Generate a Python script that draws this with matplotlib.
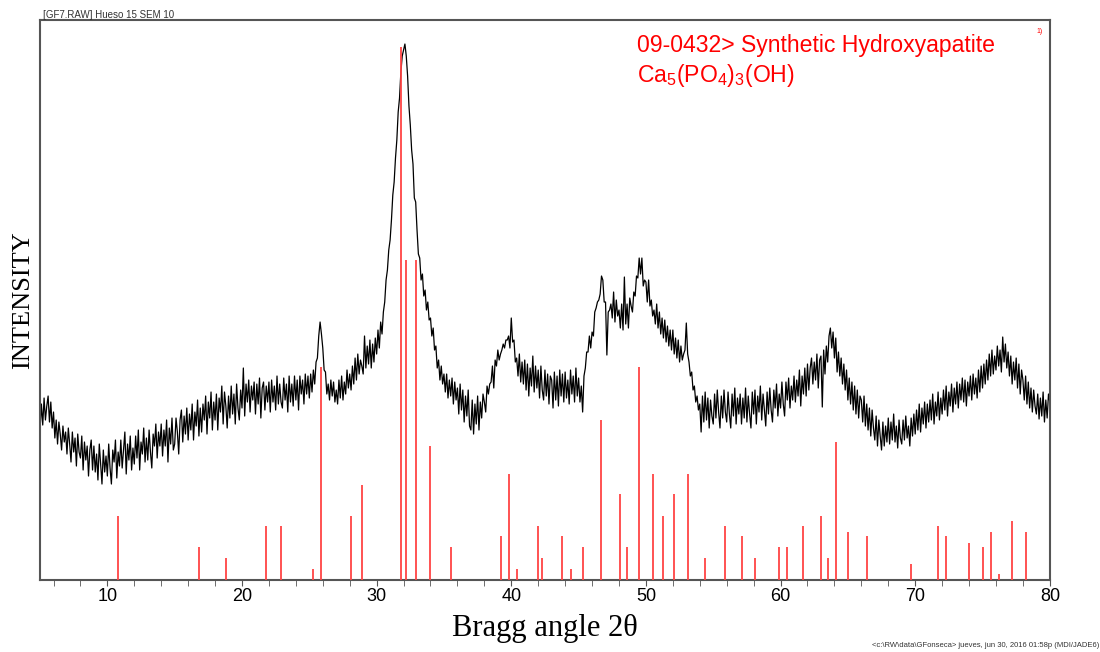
# Import necessary libraries
import numpy as np
import matplotlib.pyplot as plt

plt.rcParams['mathtext.fontset'] = 'custom'
plt.rcParams['mathtext.rm'] = 'Liberation Sans'
plt.rcParams['mathtext.default'] = 'rm'

# Measured pattern: intensity every 0.1 degree from 5.0 to 80.0 (arbitrary units)
angle_start = 5.0
angle_step = 0.1
intensity = [
    150, 176, 155, 182, 160, 174, 184, 158, 178, 152,   # 5
    168, 142, 160, 136, 158, 146, 130, 154, 138, 148,   # 6
    126, 152, 136, 118, 148, 128, 142, 114, 146, 128,   # 7
    122, 144, 110, 138, 120, 134, 104, 130, 140, 110,   # 8
    134, 108, 126, 100, 136, 116, 96, 130, 108, 124,    # 9
    104, 136, 112, 96, 130, 118, 140, 102, 128, 114,    # 10
    140, 112, 130, 148, 106, 136, 120, 144, 110, 132,   # 11
    116, 144, 122, 150, 110, 138, 126, 152, 118, 142,   # 12
    120, 150, 128, 112, 146, 134, 156, 122, 148, 134,   # 13
    156, 124, 150, 134, 160, 118, 152, 136, 162, 130,   # 14
    136, 162, 148, 126, 160, 170, 138, 164, 146, 172,   # 15
    140, 166, 150, 176, 140, 168, 154, 180, 144, 172,   # 16
    148, 176, 160, 184, 146, 178, 162, 188, 150, 178,   # 17
    160, 186, 150, 182, 168, 194, 156, 188, 174, 152,   # 18
    184, 162, 194, 166, 186, 156, 196, 172, 160, 190,   # 19
    172, 212, 164, 196, 178, 200, 168, 194, 180, 198,   # 20
    166, 196, 176, 202, 162, 192, 198, 170, 194, 178,   # 21
    198, 168, 200, 178, 194, 170, 204, 176, 196, 178,   # 22
    172, 202, 180, 196, 168, 204, 178, 196, 174, 204,   # 23
    180, 200, 170, 204, 186, 200, 176, 206, 186, 204,   # 24
    182, 206, 188, 210, 196, 218, 222, 244, 258, 246,   # 25
    232, 210, 208, 186, 196, 180, 200, 184, 198, 178,   # 26
    190, 176, 200, 182, 204, 180, 198, 186, 210, 192,   # 27
    206, 190, 214, 196, 222, 200, 226, 206, 220, 214,   # 28
    206, 244, 212, 234, 216, 240, 212, 236, 218, 242,   # 29
    226, 250, 232, 258, 246, 268, 278, 300, 310, 330,   # 30
    340, 360, 385, 398, 422, 440, 468, 482, 508, 524,   # 31
    530, 536, 524, 504, 474, 455, 430, 416, 382, 378,   # 32
    350, 326, 322, 300, 306, 284, 290, 270, 278, 260,   # 33
    262, 244, 252, 230, 234, 212, 220, 200, 214, 196,   # 34
    206, 188, 206, 182, 200, 184, 202, 176, 198, 180,   # 35
    192, 166, 196, 170, 190, 158, 184, 164, 190, 154,   # 36
    150, 180, 146, 176, 156, 184, 150, 178, 162, 186,   # 37
    178, 168, 194, 186, 196, 198, 214, 192, 220, 214,   # 38
    230, 220, 226, 230, 236, 232, 240, 240, 244, 232,   # 39
    262, 238, 240, 218, 222, 204, 226, 198, 218, 196,   # 40
    220, 190, 216, 184, 212, 194, 224, 188, 214, 192,   # 41
    210, 182, 214, 190, 180, 210, 184, 206, 176, 204,   # 42
    200, 172, 208, 180, 204, 174, 210, 184, 206, 178,   # 43
    208, 182, 200, 176, 210, 186, 204, 178, 212, 184,   # 44
    202, 178, 194, 168, 204, 212, 228, 228, 244, 232,   # 45
    248, 244, 268, 272, 278, 280, 286, 304, 300, 278,   # 46
    278, 225, 268, 270, 276, 262, 288, 258, 280, 264,   # 47
    270, 252, 276, 250, 303, 256, 276, 252, 282, 274,   # 48
    268, 288, 284, 304, 302, 322, 306, 322, 294, 300,   # 49
    298, 278, 300, 274, 280, 264, 270, 256, 276, 252,   # 50
    268, 246, 262, 242, 260, 238, 254, 234, 250, 230,   # 51
    250, 226, 242, 222, 240, 218, 234, 220, 226, 230,   # 52
    257, 226, 218, 204, 208, 190, 194, 178, 184, 170,   # 53
    176, 148, 184, 158, 188, 160, 182, 152, 180, 164,   # 54
    156, 186, 162, 190, 168, 152, 184, 162, 190, 168,   # 55
    158, 188, 166, 152, 186, 164, 192, 156, 182, 166,   # 56
    186, 156, 182, 162, 192, 158, 184, 166, 152, 188,   # 57
    166, 190, 156, 184, 168, 194, 160, 186, 170, 154,   # 58
    188, 166, 192, 170, 158, 190, 172, 196, 164, 186,   # 59
    172, 198, 176, 164, 198, 180, 202, 172, 194, 180,   # 60
    204, 178, 200, 184, 210, 174, 204, 186, 212, 184,   # 61
    216, 190, 212, 222, 196, 218, 200, 226, 192, 220,   # 62
    224, 173, 230, 206, 234, 218, 244, 252, 232, 248,   # 63
    222, 242, 208, 228, 204, 222, 196, 216, 190, 210,   # 64
    180, 202, 176, 198, 170, 194, 166, 190, 162, 184,   # 65
    180, 158, 184, 154, 176, 150, 172, 144, 170, 152,   # 66
    140, 164, 134, 160, 144, 130, 158, 134, 154, 138,   # 67
    162, 136, 158, 140, 166, 138, 154, 132, 160, 142,   # 68
    136, 160, 140, 164, 142, 154, 134, 162, 144, 166,   # 69
    146, 170, 150, 176, 148, 172, 156, 178, 152, 176,   # 70
    158, 180, 160, 186, 156, 178, 164, 188, 160, 182,   # 71
    166, 190, 170, 194, 164, 188, 174, 196, 168, 192,   # 72
    176, 198, 172, 196, 180, 202, 178, 200, 174, 198,   # 73
    184, 204, 180, 206, 186, 202, 182, 210, 188, 214,   # 74
    192, 216, 196, 220, 200, 226, 204, 230, 206, 224,   # 75
    210, 234, 214, 230, 208, 243, 218, 236, 212, 228,   # 76
    204, 224, 196, 218, 200, 222, 192, 216, 186, 210,   # 77
    200, 180, 204, 176, 198, 172, 192, 168, 190, 174,   # 78
    166, 186, 161, 182, 164, 188, 158, 180, 162, 186,   # 79
    178,                                                # 80
]

# Reference card 09-0432 (hydroxyapatite): peak positions and stick heights
ref_angles = [10.8, 16.8, 18.8, 21.8, 22.9, 25.3, 25.9, 28.1, 28.9, 31.8,
              32.2, 32.9, 34.0, 35.5, 39.2, 39.8, 40.4, 42.0, 42.3, 43.8,
              44.4, 45.3, 46.7, 48.1, 48.6, 49.5, 50.5, 51.3, 52.1, 53.1,
              54.4, 55.9, 57.1, 58.1, 59.9, 60.5, 61.7, 63.0, 63.5, 64.1,
              65.0, 66.4, 69.7, 71.7, 72.3, 74.0, 75.0, 75.6, 76.2, 77.2,
              78.2]
ref_heights = [64, 33, 22, 54, 54, 11, 213, 64, 95, 533,
               320, 320, 134, 33, 44, 106, 11, 54, 22, 44,
               11, 33, 160, 86, 33, 213, 106, 64, 86, 106,
               22, 54, 44, 22, 33, 33, 54, 64, 22, 138,
               48, 44, 16, 54, 44, 37, 33, 48, 6, 59,
               48]

x_ticks = [10, 20, 30, 40, 50, 60, 70, 80]

# Angle axis for the measured pattern
two_theta = angle_start + angle_step * np.arange(len(intensity))

# Create the figure
fig = plt.figure(figsize=(11, 6.52), dpi=100)
ax = fig.add_axes([0.0364, 0.1104, 0.918, 0.8589])

# Measured pattern and reference sticks
ax.plot(two_theta, intensity, color='black', lw=0.9, zorder=2)
ax.vlines(ref_angles, 0, ref_heights, color='#ff4444', lw=1.3, zorder=3)

# Axis ranges and ticks
ax.set_xlim(5, 80)
ax.set_ylim(0, 560)
ax.set_yticks([])
ax.set_xticks(x_ticks)
ax.set_xticks(np.arange(6, 80, 2), minor=True)
ax.tick_params(axis='x', which='both', direction='out', length=4,
               color='#555555', labelsize=13, pad=2)
for label in ax.get_xticklabels():
    label.set_fontfamily('Liberation Sans')
for spine in ax.spines.values():
    spine.set_color('#555555')
    spine.set_linewidth(1.5)

# Axis titles
ax.set_xlabel('Bragg angle 2θ', fontsize=22, family='Liberation Serif', labelpad=6)
fig.text(0.021, 0.54, 'INTENSITY', rotation=90, fontsize=19,
         family='Liberation Serif', ha='center', va='center')

# Phase annotation
ax.text(0.591, 0.955, '09-0432> Synthetic Hydroxyapatite', transform=ax.transAxes,
        color='red', fontsize=16.6, family='Liberation Sans', va='center')
ax.text(0.591, 0.901, r'Ca$_5$(PO$_4$)$_3$(OH)', transform=ax.transAxes,
        color='red', fontsize=16.6, family='Liberation Sans', va='center')
ax.text(0.993, 0.985, '1)', transform=ax.transAxes, color='red', fontsize=5,
        family='Liberation Sans', ha='right', va='top')

# File header and footer
fig.text(0.039, 0.977, '[GF7.RAW] Hueso 15 SEM 10', fontsize=7,
         family='Liberation Sans', color='#333333', va='center')
fig.text(0.999, 0.01, r'<c:\RW\data\GFonseca> jueves, jun 30, 2016 01:58p (MDI/JADE6)',
         fontsize=5.5, family='Liberation Sans', color='#333333', ha='right', va='center')

# Save the plot
fig.savefig('out.png', dpi=100)
